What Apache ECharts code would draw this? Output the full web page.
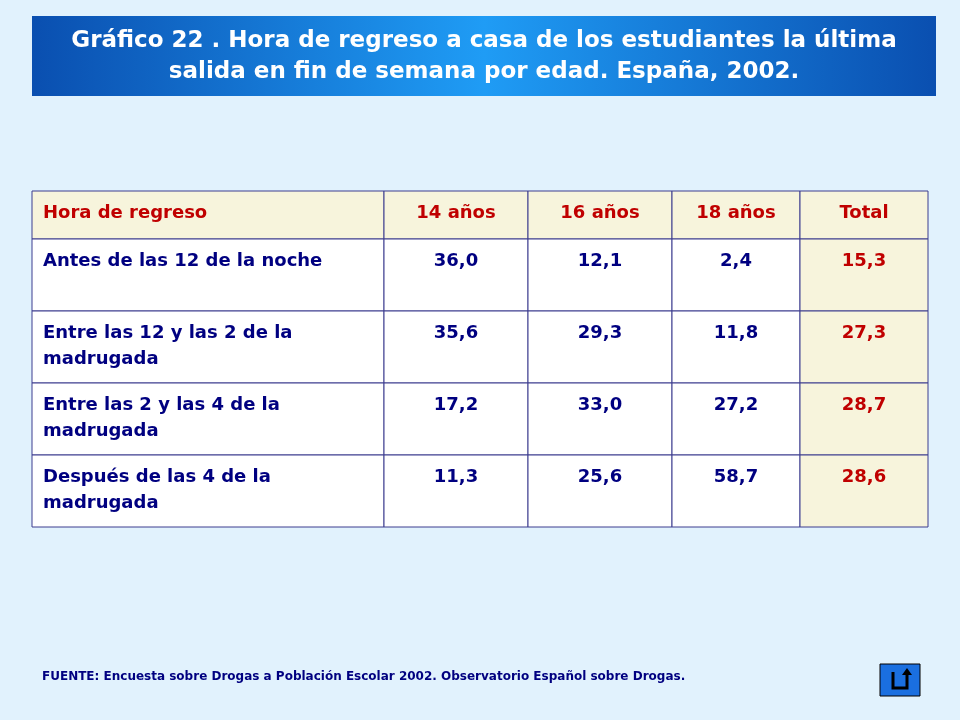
<!DOCTYPE html>
<html>
<head>
<meta charset="utf-8">
<script src="https://cdn.jsdelivr.net/npm/echarts@6/dist/echarts.min.js"></script>
<style>
html, body { margin: 0; padding: 0; background: #e1f2fd; }
#main { width: 960px; height: 720px; }
</style>
</head>
<body>
<div id="main"></div>
<script>
var headers = ['Hora de regreso', '14 años', '16 años', '18 años', 'Total'];
var rowLabels = ['Antes de las 12 de la noche', 'Entre las 12 y las 2 de la\nmadrugada', 'Entre las 2 y las 4 de la\nmadrugada', 'Después de las 4 de la\nmadrugada'];
var age14 = ['36,0', '35,6', '17,2', '11,3'];
var age16 = ['12,1', '29,3', '33,0', '25,6'];
var age18 = ['2,4', '11,8', '27,2', '58,7'];
var total = ['15,3', '27,3', '28,7', '28,6'];

var chart = echarts.init(document.getElementById('main'));
var font = '"DejaVu Sans", Verdana, sans-serif';
var colX = [32, 384, 528, 672, 800, 928];
var rowY = [191, 239, 311, 383, 455, 527];
var cols = [rowLabels, age14, age16, age18, total];
var els = [];

// title bar
els.push({
    type: 'rect', shape: { x: 32, y: 16, width: 904, height: 80 },
    style: { fill: new echarts.graphic.LinearGradient(0, 0, 1, 0, [
        { offset: 0, color: '#0a4fb0' }, { offset: 0.5, color: '#1f9cf5' }, { offset: 1, color: '#0a4fb0' }]) }
});
els.push({
    type: 'text', x: 484, y: 57,
    style: { text: 'Gráfico 22 . Hora de regreso a casa de los estudiantes la última\nsalida en fin de semana por edad. España, 2002.',
        fill: '#ffffff', font: 'bold 23px ' + font, align: 'center', verticalAlign: 'middle', lineHeight: 31 }
});

// cells
for (var c = 0; c < 5; c++) {
    for (var r = 0; r < 5; r++) {
        var cream = r === 0 || c === 4;
        els.push({
            type: 'rect',
            shape: { x: colX[c], y: rowY[r], width: colX[c + 1] - colX[c], height: rowY[r + 1] - rowY[r] },
            style: { fill: cream ? '#f7f4dc' : '#ffffff', stroke: '#3d3d8f', lineWidth: 1 }
        });
        var txt = r === 0 ? headers[c] : cols[c][r - 1];
        var color = r === 0 ? '#c00000' : (c === 4 ? '#c00000' : '#000080');
        var left = c === 0;
        els.push({
            type: 'text',
            x: left ? colX[c] + 11 : (colX[c] + colX[c + 1]) / 2,
            y: rowY[r] + 9,
            style: { text: txt, fill: color, font: 'bold 18px ' + font, align: left ? 'left' : 'center',
                verticalAlign: 'top', lineHeight: 26 }
        });
    }
}

// footnote
els.push({
    type: 'text', x: 42, y: 677,
    style: { text: 'FUENTE: Encuesta sobre Drogas a Población Escolar 2002. Observatorio Español sobre Drogas.',
        fill: '#000080', font: 'bold 12px ' + font, verticalAlign: 'middle' }
});

// return button
els.push({ type: 'rect', shape: { x: 880, y: 664, width: 40, height: 32 },
    style: { fill: '#1a6fe0', stroke: '#000', lineWidth: 1 } });
els.push({ type: 'polyline', shape: { points: [[893, 672], [893, 688], [907, 688], [907, 672]] },
    style: { stroke: '#000', lineWidth: 3, fill: null } });
els.push({ type: 'polygon', shape: { points: [[902, 675], [907, 668], [912, 675]] },
    style: { fill: '#000' } });

chart.setOption({
    backgroundColor: '#e1f2fd',
    graphic: { elements: els }
});
</script>
</body>
</html>
